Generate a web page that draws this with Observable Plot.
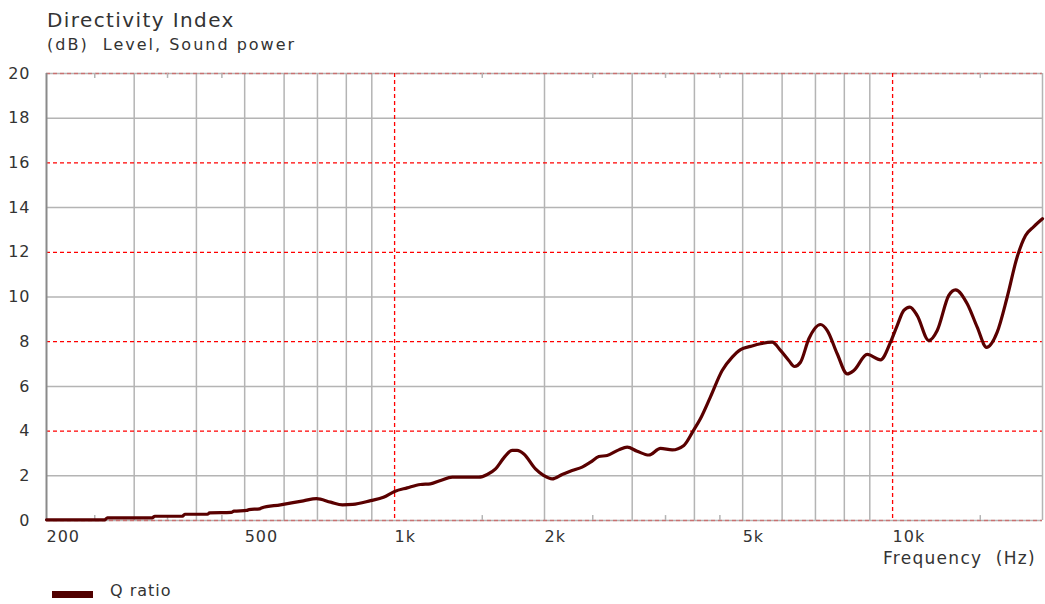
<!DOCTYPE html>
<html><head><meta charset="utf-8">
<script src="https://cdn.jsdelivr.net/npm/d3@7"></script>
<script src="https://cdn.jsdelivr.net/npm/@observablehq/plot@0.6"></script>
<style>
body{margin:0;background:#fff;font-family:"DejaVu Sans",Verdana,sans-serif;color:#333}
#wrap{position:relative;width:1045px;height:604px;overflow:hidden}
.t{position:absolute;white-space:pre;letter-spacing:1px;line-height:1}
</style></head><body>
<div id="wrap">
<div id="chart" style="position:absolute;left:0;top:0"></div>
<div class="t" style="left:47px;top:10px;font-size:20px;letter-spacing:1.4px">Directivity Index</div>
<div class="t" style="left:47px;top:37px;font-size:16px;letter-spacing:2px">(dB)  Level, Sound power</div>
<div class="t" style="right:9px;top:550px;font-size:17px;letter-spacing:1.3px">Frequency  (Hz)</div>
<div style="position:absolute;left:52px;top:591px;width:41px;height:7px;background:#500000"></div>
<div class="t" style="left:110px;top:583px;font-size:16px">Q ratio</div>
</div>
<script>
const freq = [200,262,265,326,330,375,379,421,425,470,476,505,510,536,540,590,656,697,744,786,824,895,950,1000,1060,1127,1180,1237,1306,1476,1535,1595,1657,1722,1762,1818,1918,1994,2072,2170,2272,2380,2474,2571,2672,2819,2931,3070,3240,3420,3610,3810,3978,4112,4306,4548,4764,4952,5186,5430,5730,5956,6188,6354,6532,6790,7166,7394,7741,8108,8358,8892,9460,9906,10214,10532,10830,11206,11826,12292,12968,13378,14120,14788,15440,16220,16984,17784,18492,19214,20000];
const qratio = [0.03,0.03,0.12,0.12,0.19,0.19,0.28,0.28,0.34,0.36,0.42,0.45,0.49,0.52,0.56,0.70,0.88,0.98,0.82,0.70,0.72,0.89,1.04,1.30,1.46,1.61,1.64,1.79,1.94,1.94,2.06,2.31,2.80,3.14,3.14,2.98,2.31,2.01,1.86,2.06,2.24,2.39,2.61,2.86,2.91,3.16,3.28,3.10,2.93,3.23,3.16,3.36,4.01,4.55,5.52,6.71,7.31,7.65,7.79,7.91,7.98,7.61,7.16,6.89,7.08,8.13,8.77,8.50,7.46,6.56,6.71,7.43,7.19,7.98,8.72,9.40,9.55,9.17,8.05,8.50,10.07,10.32,9.70,8.65,7.75,8.43,9.99,11.78,12.75,13.15,13.50];
const xTicks = [200,500,1000,2000,5000,10000];
const xTickLabels = ["200","500","1k","2k","5k","10k"];
const yTicks = [0,2,4,6,8,10,12,14,16,18,20];
const grayX = [300,400,500,600,700,800,900,2000,3000,4000,5000,6000,7000,8000,9000];
const redX = [1000,10000];
const grayY = [2,6,10,14,18];
const redY = [4,8,12,16];
const edgeY = [0,20];
const minorX = [250,350,450,1500,2500,3500,4500,15000];

const data = freq.map((f,i)=>({f, v: qratio[i]}));
const plot = Plot.plot({
  width: 1045, height: 604,
  marginTop: 73, marginBottom: 84, marginLeft: 46, marginRight: 3,
  x: {type: "log", domain: [200, 20000]},
  y: {domain: [0, 20]},
  style: {fontFamily: "DejaVu Sans, Verdana, sans-serif", fontSize: "16px", color: "#333", background: "transparent", overflow: "visible", letterSpacing: "1px"},
  marks: [
    Plot.ruleX(grayX, {stroke: "#b4b4b4", strokeWidth: 1.5}),
    Plot.ruleY(grayY, {stroke: "#b4b4b4", strokeWidth: 1.5}),
    Plot.ruleY(edgeY, {stroke: "#b4b4b4", strokeWidth: 1.5}),
    Plot.ruleY(edgeY, {stroke: "#e02020", strokeWidth: 1.5, strokeDasharray: "4,3", strokeOpacity: 0.45}),
    Plot.ruleX(redX, {stroke: "#ff0000", strokeWidth: 1.3, strokeDasharray: "4,3"}),
    Plot.ruleY(redY, {stroke: "#ff0000", strokeWidth: 1.3, strokeDasharray: "4,3"}),
    Plot.ruleX(minorX, {y1: 0, y2: 0.22, stroke: "#b4b4b4", strokeWidth: 1.5}),
    Plot.ruleX(minorX, {y1: 19.78, y2: 20, stroke: "#b4b4b4", strokeWidth: 1.5}),
    Plot.ruleX([20000], {stroke: "#b4b4b4", strokeWidth: 1.5}),
    Plot.ruleX([200], {stroke: "#8a8a8a", strokeWidth: 2}),
    Plot.line(data, {x: "f", y: "v", stroke: "#5a0000", strokeWidth: 3.2, curve: "monotone-x"}),
    Plot.axisY({ticks: yTicks, tickSize: 0, tickPadding: 16, label: null}),
    Plot.axisX({ticks: xTicks, tickFormat: (d)=>xTickLabels[xTicks.indexOf(d)], tickSize: 0, tickPadding: 10, textAnchor: "start", label: null})
  ]
});
document.getElementById("chart").appendChild(plot);
</script>
</body></html>
